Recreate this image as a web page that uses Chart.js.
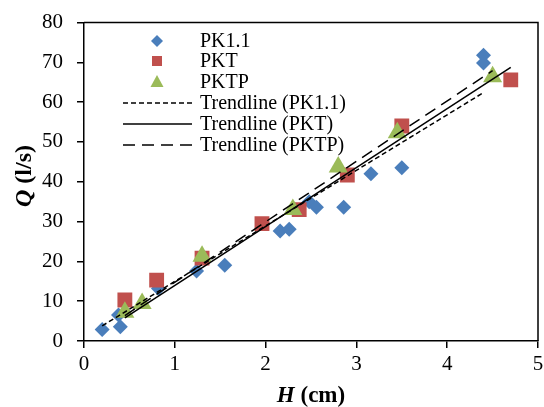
<!DOCTYPE html>
<html>
<head>
<meta charset="utf-8">
<script src="https://cdn.jsdelivr.net/npm/chart.js@4"></script>
<style>
  html, body { margin: 0; padding: 0; background: #fff; overflow: hidden; }
  #wrap { width: 544px; height: 407px; }
  #qhChart { display: block; }
</style>
</head>
<body>
<div id="wrap"><canvas id="qhChart" width="544" height="407"></canvas></div>
<script>
// measured points, H (cm) vs Q (l/s)
const pk11H = [0.2, 0.38, 0.4, 0.82, 1.24, 1.55, 2.16, 2.26, 2.48, 2.56, 2.86, 3.16, 3.5, 4.4, 4.4];
const pk11Q = [2.9, 6.5, 3.6, 13.2, 17.6, 19.0, 27.6, 28.1, 35.0, 33.6, 33.6, 42.0, 43.5, 71.8, 69.8];

const pktH = [0.45, 0.8, 1.3, 1.96, 2.37, 2.9, 3.5, 4.7];
const pktQ = [10.3, 15.3, 20.8, 29.5, 33.0, 41.7, 54.0, 65.6];

const pktpH = [0.45, 0.64, 1.3, 2.3, 2.8, 3.45, 4.5];
const pktpQ = [7.2, 9.4, 21.3, 33.0, 43.7, 52.3, 66.4];

// trendline end points
const trendPk11H = [0.2, 4.4];
const trendPk11Q = [3.8, 62.4];
const trendPktH = [0.45, 4.7];
const trendPktQ = [5.8, 68.7];
const trendPktpH = [0.45, 4.5];
const trendPktpQ = [6.4, 67.9];

const xTicks = [0, 1, 2, 3, 4, 5];
const yTicks = [0, 10, 20, 30, 40, 50, 60, 70, 80];

const seriesNames = ['PK1.1', 'PKT', 'PKTP', 'Trendline (PK1.1)', 'Trendline (PKT)', 'Trendline (PKTP)'];

const BLUE = '#4a7ebb';
const RED = '#c0504d';
const GREEN = '#9bbb59';
const SERIF = '"Liberation Serif", "Times New Roman", serif';

function toPoints(xs, ys) {
    return xs.map((x, i) => ({ x: x, y: ys[i] }));
}

// legend drawn inside the plot, upper left
const legendBox = {
    id: 'legendBox',
    afterDraw(chart) {
        const ctx = chart.ctx;
        const rowY = [41, 61, 82, 103, 124, 145];
        const markX = 157;
        const textX = 200;
        ctx.save();
        ctx.setLineDash([]);
        ctx.font = '20px ' + SERIF;
        ctx.textBaseline = 'middle';
        ctx.textAlign = 'left';

        // markers
        ctx.fillStyle = BLUE;
        ctx.beginPath();
        ctx.moveTo(markX, rowY[0] - 6);
        ctx.lineTo(markX + 6, rowY[0]);
        ctx.lineTo(markX, rowY[0] + 6);
        ctx.lineTo(markX - 6, rowY[0]);
        ctx.closePath();
        ctx.fill();

        ctx.fillStyle = RED;
        ctx.fillRect(markX - 5, rowY[1] - 5, 10, 10);

        ctx.fillStyle = GREEN;
        ctx.beginPath();
        ctx.moveTo(markX, rowY[2] - 7);
        ctx.lineTo(markX + 6.5, rowY[2] + 5);
        ctx.lineTo(markX - 6.5, rowY[2] + 5);
        ctx.closePath();
        ctx.fill();

        // line samples
        const dashes = [[5, 3], [], [12, 7]];
        ctx.strokeStyle = '#000';
        ctx.lineWidth = 1.5;
        for (let i = 0; i < 3; i++) {
            ctx.setLineDash(dashes[i]);
            ctx.beginPath();
            ctx.moveTo(123, rowY[3 + i]);
            ctx.lineTo(192, rowY[3 + i]);
            ctx.stroke();
        }
        ctx.setLineDash([]);

        ctx.fillStyle = '#000';
        seriesNames.forEach((name, i) => {
            ctx.fillText(name, textX, rowY[i] + 1);
        });
        ctx.restore();
    }
};

// box around plot plus the two axis titles (mixed italic/bold)
const frameAndTitles = {
    id: 'frameAndTitles',
    afterDraw(chart) {
        const ctx = chart.ctx;
        const a = chart.chartArea;
        ctx.save();
        ctx.setLineDash([]);
        ctx.strokeStyle = '#000';
        ctx.lineWidth = 1.5;
        ctx.beginPath();
        ctx.moveTo(a.left, a.top);
        ctx.lineTo(a.right, a.top);
        ctx.lineTo(a.right, a.bottom);
        ctx.stroke();

        ctx.fillStyle = '#000';
        ctx.textBaseline = 'alphabetic';
        ctx.textAlign = 'left';

        // x title: H (cm)
        const italic = 'italic bold 23px ' + SERIF;
        const bold = 'bold 23px ' + SERIF;
        ctx.font = italic;
        const wH = ctx.measureText('H').width;
        ctx.font = bold;
        const wRest = ctx.measureText(' (cm)').width;
        let x0 = 311 - (wH + wRest) / 2;
        ctx.font = italic;
        ctx.fillText('H', x0, 402);
        ctx.font = bold;
        ctx.fillText(' (cm)', x0 + wH, 402);

        // y title: Q (l/s)
        const italicQ = 'italic bold 24px ' + SERIF;
        const boldQ = 'bold 24px ' + SERIF;
        ctx.translate(31, 176);
        ctx.rotate(-Math.PI / 2);
        ctx.font = italicQ;
        const wQ = ctx.measureText('Q').width;
        ctx.font = boldQ;
        const wRest2 = ctx.measureText(' (l/s)').width;
        x0 = -(wQ + wRest2) / 2;
        ctx.font = italicQ;
        ctx.fillText('Q', x0, 0);
        ctx.font = boldQ;
        ctx.fillText(' (l/s)', x0 + wQ, 0);
        ctx.restore();
    }
};

function makeChart() {
    const ctx = document.getElementById('qhChart').getContext('2d');

    const tickFont = { family: SERIF, size: 21 };

    new Chart(ctx, {
        type: 'scatter',
        data: {
            datasets: [
                {
                    label: seriesNames[3],
                    data: toPoints(trendPk11H, trendPk11Q),
                    showLine: true,
                    borderColor: '#000',
                    borderWidth: 1.5,
                    borderDash: [5, 3],
                    pointRadius: 0,
                    order: 0
                },
                {
                    label: seriesNames[4],
                    data: toPoints(trendPktH, trendPktQ),
                    showLine: true,
                    borderColor: '#000',
                    borderWidth: 1.5,
                    pointRadius: 0,
                    order: 0
                },
                {
                    label: seriesNames[5],
                    data: toPoints(trendPktpH, trendPktpQ),
                    showLine: true,
                    borderColor: '#000',
                    borderWidth: 1.5,
                    borderDash: [12, 7],
                    pointRadius: 0,
                    order: 0
                },
                {
                    label: seriesNames[2],
                    data: toPoints(pktpH, pktpQ),
                    pointStyle: 'triangle',
                    pointRadius: 11,
                    backgroundColor: GREEN,
                    borderWidth: 0,
                    order: 1
                },
                {
                    label: seriesNames[1],
                    data: toPoints(pktH, pktQ),
                    pointStyle: 'rect',
                    pointRadius: 10.5,
                    backgroundColor: RED,
                    borderWidth: 0,
                    order: 2
                },
                {
                    label: seriesNames[0],
                    data: toPoints(pk11H, pk11Q),
                    pointStyle: 'rectRot',
                    pointRadius: 7.5,
                    backgroundColor: BLUE,
                    borderWidth: 0,
                    order: 3
                }
            ]
        },
        options: {
            responsive: false,
            devicePixelRatio: 1,
            animation: false,
            layout: { autoPadding: false, padding: { top: 22.5, right: 6, left: 0, bottom: 0 } },
            plugins: {
                legend: { display: false },
                tooltip: { enabled: false }
            },
            scales: {
                x: {
                    type: 'linear',
                    min: 0,
                    max: 5,
                    afterBuildTicks: s => { s.ticks = xTicks.map(v => ({ value: v })); },
                    afterFit: s => { s.height = 66; s.paddingLeft = 0; s.paddingRight = 0; },
                    ticks: { font: tickFont, color: '#000', padding: 4, maxRotation: 0 },
                    grid: { drawOnChartArea: false, drawTicks: true, tickLength: 7, color: '#000', lineWidth: 1.5 },
                    border: { display: true, color: '#000', width: 1.5 }
                },
                y: {
                    type: 'linear',
                    min: 0,
                    max: 80,
                    afterBuildTicks: s => { s.ticks = yTicks.map(v => ({ value: v })); },
                    afterFit: s => { s.width = 84; s.paddingTop = 0; s.paddingBottom = 0; },
                    ticks: { font: tickFont, color: '#000', padding: 14 },
                    grid: { drawOnChartArea: false, drawTicks: true, tickLength: 7, color: '#000', lineWidth: 1.5 },
                    border: { display: true, color: '#000', width: 1.5 }
                }
            }
        },
        plugins: [frameAndTitles, legendBox]
    });
}

window.addEventListener('DOMContentLoaded', makeChart);
</script>
</body>
</html>
